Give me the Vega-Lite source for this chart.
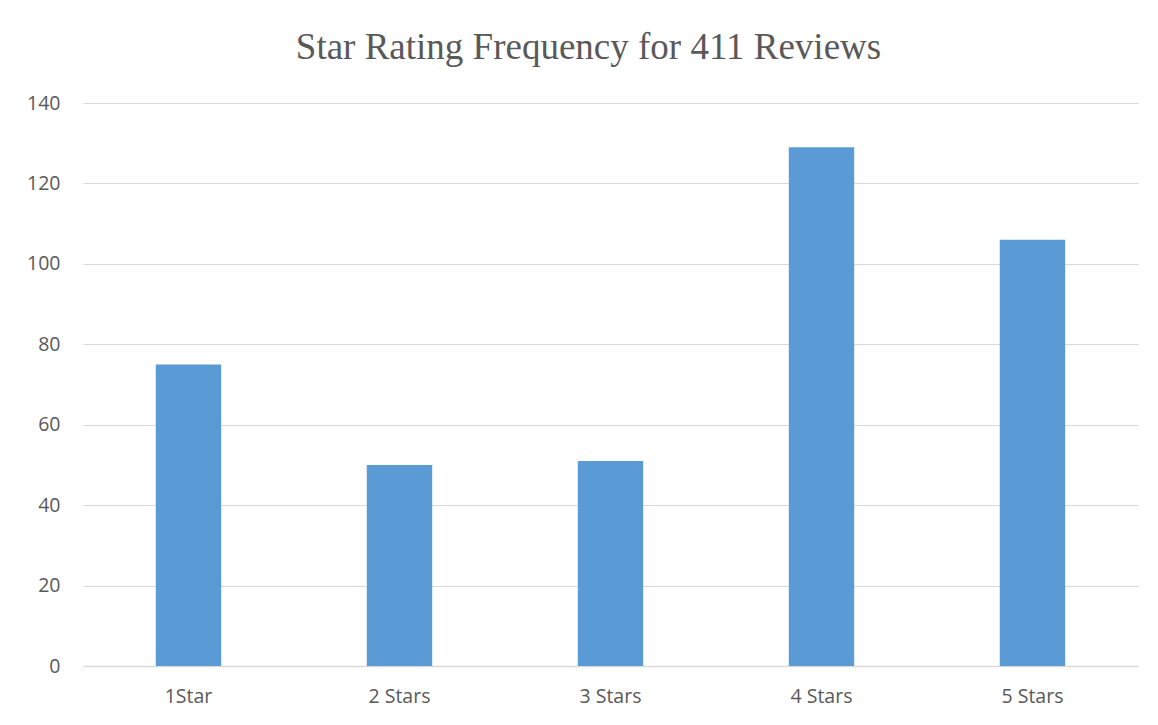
{
  "$schema": "https://vega.github.io/schema/vega-lite/v6.json",
  "autosize": {"type": "none"},
  "width": 1055,
  "height": 563,
  "padding": {"left": 83, "top": 103, "right": 20, "bottom": 59},
  "background": "white",
  "title": {
    "text": "Star Rating Frequency for 411 Reviews",
    "font": "Liberation Serif",
    "fontSize": 37,
    "fontWeight": "normal",
    "color": "#595959",
    "anchor": "middle",
    "baseline": "alphabetic",
    "offset": -3,
    "dx": -22
  },
  "data": {
    "values": [
      {"rating": "1Star", "count": 75},
      {"rating": "2 Stars", "count": 50},
      {"rating": "3 Stars", "count": 51},
      {"rating": "4 Stars", "count": 129},
      {"rating": "5 Stars", "count": 106}
    ]
  },
  "mark": {"type": "bar", "color": "#5b9bd5"},
  "encoding": {
    "x": {
      "field": "rating",
      "type": "nominal",
      "sort": null,
      "scale": {"paddingInner": 0.69, "paddingOuter": 0.345},
      "axis": {
        "title": null,
        "labelAngle": 0,
        "labelFont": "Open Sans",
        "labelFontSize": 19.5,
        "labelColor": "#595959",
        "labelPadding": 21,
        "ticks": false,
        "domainColor": "#d9d9d9",
        "domainWidth": 1.5,
        "grid": false
      }
    },
    "y": {
      "field": "count",
      "type": "quantitative",
      "scale": {"domain": [0, 140]},
      "axis": {
        "title": null,
        "values": [0, 20, 40, 60, 80, 100, 120, 140],
        "labelFont": "Open Sans",
        "labelFontSize": 19.5,
        "labelColor": "#595959",
        "labelPadding": 23,
        "ticks": false,
        "domain": false,
        "grid": true,
        "gridColor": "#d9d9d9",
        "gridWidth": 1.2
      }
    }
  },
  "config": {"view": {"stroke": null}}
}
